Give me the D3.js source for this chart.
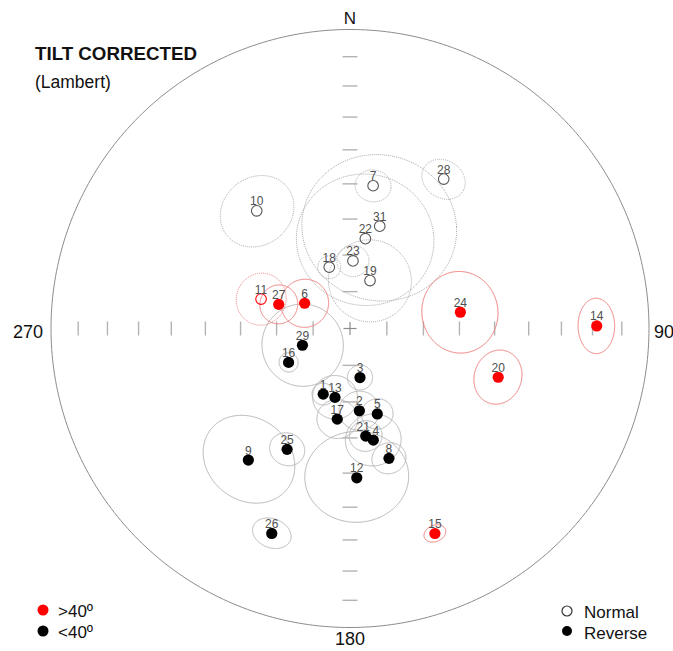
<!DOCTYPE html>
<html>
<head>
<meta charset="utf-8">
<script src="https://cdn.jsdelivr.net/npm/d3@7"></script>
<style>
  body { margin: 0; background: #fff; }
  svg { display: block; }
  text { font-family: "Liberation Sans", Arial, Helvetica, sans-serif; }
</style>
</head>
<body>
<svg id="chart" width="673" height="651"></svg>
<script>
// Site-mean palaeomagnetic directions (tilt corrected)
const sites = ["1","2","3","4","5","6","7","8","9","10","11","12","13","14","15",
               "16","17","18","19","20","21","22","23","24","25","26","27","28","29","31"];
// Declination (deg, clockwise from N)
const declinations = [202.2,173.5,168.5,168.2,162.3,299.1,9.2,163.3,217.7,321.6,
                      288.3,177.4,192.3,89.4,157.5,241.1,188.0,341.3,22.7,108.2,
                      171.7,9.7,2.5,81.6,207.5,200.9,288.7,32.1,250.6,16.2];
// Inclination (deg, negative = upward = normal polarity)
const inclinations = [70.7,67.4,76.4,58.7,65.5,75.9,-50.0,52.6,43.7,-48.4,
                      -64.4,48.6,70.8,18.6,26.7,70.9,65.0,-72.4,-75.9,46.7,
                      60.2,-65.1,-71.6,59.4,52.4,27.5,69.5,-40.7,76.3,-60.8];
// 95% confidence cone half-angle (deg)
const alpha95 = [3.0,5.4,3.4,7.3,4.2,6.5,4.6,4.4,12.1,9.8,
                 6.9,13.2,6.0,6.1,2.6,2.6,5.4,3.1,11.2,6.9,
                 4.3,18.3,4.3,10.7,4.6,4.6,5.2,5.6,11.1,20.5];
// Sites in the >40º class
const over40Sites = ["6","11","14","15","20","24","27"];

// Axis tick inclinations and compass labels
const tickInclinations = [10,20,30,40,50,60,70,80];
const compassLabels = ["N","90","180","270"];
const legendClasses = [">40º","<40º"];
const legendPolarity = ["Normal","Reverse"];

const svg = d3.select("#chart");
const cx = 350, cy = 328.5, R = 299;
const RED = "#ff0000", RED_CONE = "#f07a7a", GREY_CONE = "#b5b5b5";

// Lambert equal-area net; the sphere's pole stands for the vertical
const projection = d3.geoAzimuthalEqualArea()
  .rotate([0, -90])
  .scale(R / Math.SQRT2)
  .translate([cx, cy]);
const path = d3.geoPath(projection);
const toGeo = (dec, inc) => [180 - dec, Math.abs(inc)];

// small horizontal nudges for labels that would collide
const labelShift = { "21": -2.5, "4": 2.5 };

const data = sites.map((s, i) => ({
  site: s,
  dec: declinations[i],
  inc: inclinations[i],
  a95: alpha95[i],
  red: over40Sites.includes(s),
  normal: inclinations[i] < 0
}));

// Primitive circle
svg.append("path")
  .datum(d3.geoCircle().center([0, 90]).radius(90).precision(1)())
  .attr("d", path)
  .attr("fill", "none")
  .attr("stroke", "#8c8c8c")
  .attr("stroke-width", 1);

// Axis ticks along N-S and E-W
const tickG = svg.append("g").attr("stroke", "#b3b3b3").attr("stroke-width", 1.4);
[0, 90, 180, 270].forEach(dec => {
  tickInclinations.forEach(inc => {
    const [x, y] = projection(toGeo(dec, inc));
    const horiz = dec === 90 || dec === 270;
    tickG.append("line")
      .attr("x1", horiz ? x : x - 7.5).attr("x2", horiz ? x : x + 7.5)
      .attr("y1", horiz ? y - 7 : y).attr("y2", horiz ? y + 7 : y);
  });
});
// Centre cross
const [c0x, c0y] = projection([0, 90]);
svg.append("g").attr("stroke", "#8c8c8c").attr("stroke-width", 1.2)
  .selectAll("line").data([[-6.5,0,6.5,0],[0,-6.5,0,6.5]]).join("line")
  .attr("x1", d => c0x + d[0]).attr("y1", d => c0y + d[1])
  .attr("x2", d => c0x + d[2]).attr("y2", d => c0y + d[3]);

// Confidence cones
svg.append("g").selectAll("path")
  .data(data.slice().sort((a, b) => a.red - b.red))
  .join("path")
  .attr("d", d => path(d3.geoCircle().center(toGeo(d.dec, d.inc)).radius(d.a95).precision(1)()))
  .attr("fill", "none")
  .attr("stroke", d => d.red ? RED_CONE : (d.normal ? "#a8a8a8" : GREY_CONE))
  .attr("stroke-width", 1)
  .attr("stroke-dasharray", d => d.normal ? "1,1" : null);

// Site means
svg.append("g").selectAll("circle")
  .data(data)
  .join("circle")
  .attr("cx", d => projection(toGeo(d.dec, d.inc))[0])
  .attr("cy", d => projection(toGeo(d.dec, d.inc))[1])
  .attr("r", d => d.normal ? 5.3 : 5.6)
  .attr("fill", d => d.normal ? "#fff" : (d.red ? RED : "#000"))
  .attr("fill-opacity", d => d.normal ? 0 : 1)
  .attr("stroke", d => d.normal ? (d.red ? RED : "#555") : "none")
  .attr("stroke-width", 1.1);

// Site labels
svg.append("g").selectAll("text")
  .data(data)
  .join("text")
  .attr("x", d => projection(toGeo(d.dec, d.inc))[0] + (labelShift[d.site] || 0))
  .attr("y", d => projection(toGeo(d.dec, d.inc))[1] - 5.5)
  .attr("text-anchor", "middle")
  .attr("font-size", 12)
  .attr("fill", "#505050")
  .text(d => d.site);

// Compass labels
svg.append("text").attr("x", cx).attr("y", 24).attr("text-anchor", "middle")
  .attr("font-size", 17).attr("fill", "#111").text(compassLabels[0]);
svg.append("text").attr("x", 654).attr("y", 338).attr("text-anchor", "start")
  .attr("font-size", 18).attr("fill", "#111").text(compassLabels[1]);
svg.append("text").attr("x", cx).attr("y", 645).attr("text-anchor", "middle")
  .attr("font-size", 18).attr("fill", "#111").text(compassLabels[2]);
svg.append("text").attr("x", 43).attr("y", 338).attr("text-anchor", "end")
  .attr("font-size", 18).attr("fill", "#111").text(compassLabels[3]);

// Title
svg.append("text").attr("x", 35).attr("y", 60)
  .attr("font-size", 19).attr("font-weight", "bold").attr("fill", "#111")
  .attr("textLength", 162).attr("lengthAdjust", "spacingAndGlyphs")
  .text("TILT CORRECTED");
svg.append("text").attr("x", 35).attr("y", 88)
  .attr("font-size", 17.5).attr("fill", "#111")
  .text("(Lambert)");

// Legends
const legL = svg.append("g");
legendClasses.forEach((t, i) => {
  legL.append("circle").attr("cx", 43).attr("cy", 610 + i * 21).attr("r", 5.5)
    .attr("fill", i === 0 ? RED : "#000");
  legL.append("text").attr("x", 58).attr("y", 616.5 + i * 21)
    .attr("font-size", 17).attr("fill", "#111").text(t);
});
const legR = svg.append("g");
legendPolarity.forEach((t, i) => {
  legR.append("circle").attr("cx", 567).attr("cy", 611 + i * 20).attr("r", 5)
    .attr("fill", i === 0 ? "#fff" : "#000")
    .attr("stroke", i === 0 ? "#333" : "none").attr("stroke-width", 1.2);
  legR.append("text").attr("x", 584).attr("y", 617.5 + i * 21)
    .attr("font-size", 17).attr("fill", "#111").text(t);
});
</script>
</body>
</html>
